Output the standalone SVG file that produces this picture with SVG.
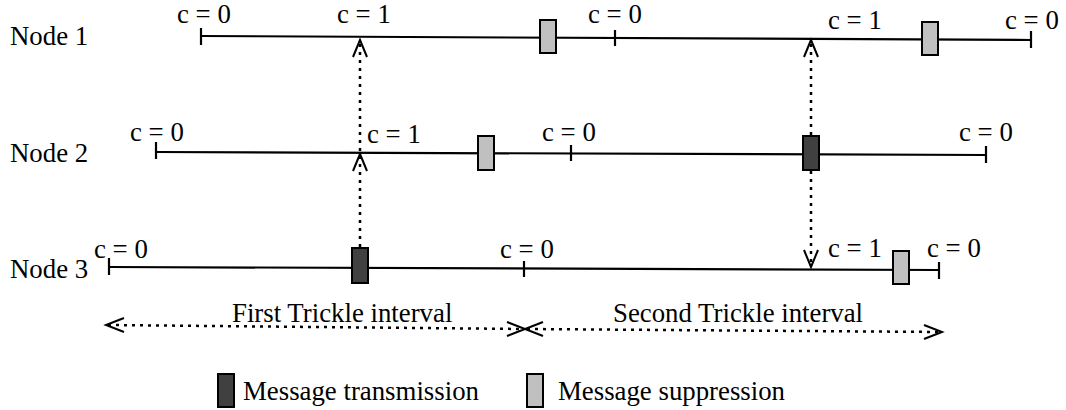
<svg xmlns="http://www.w3.org/2000/svg" width="1066" height="410" viewBox="0 0 1066 410">
<style>
text{font-family:"Liberation Serif","Times New Roman",serif;font-size:26.8px;fill:#000}
.ln{stroke:#000;stroke-width:2.2;fill:none}
.dot{stroke:#000;stroke-width:2.5;fill:none;stroke-dasharray:3 5}
.ah{stroke:#000;stroke-width:2;fill:none}
.tx{fill:#404040;stroke:#000;stroke-width:2}
.sp{fill:#c0c0c0;stroke:#000;stroke-width:2}
</style>
<rect width="1066" height="410" fill="#fff"/>
<g id="node1">
<text x="10" y="45">Node 1</text>
<line class="ln" x1="201" y1="36" x2="1031" y2="40"/>
<line class="ln" x1="201" y1="28" x2="201" y2="45"/>
<line class="ln" x1="615" y1="30" x2="615" y2="46"/>
<line class="ln" x1="1031" y1="31" x2="1031" y2="48"/>
<rect class="sp" x="540" y="20" width="16" height="33"/>
<rect class="sp" x="922" y="22" width="16" height="33"/>
<text x="177" y="23">c = 0</text>
<text x="337" y="23">c = 1</text>
<text x="588" y="23">c = 0</text>
<text x="828" y="29">c = 1</text>
<text x="1005" y="29">c = 0</text>
</g>
<g id="node2">
<text x="10" y="162">Node 2</text>
<line class="ln" x1="156" y1="152" x2="986" y2="155"/>
<line class="ln" x1="156" y1="142" x2="156" y2="159"/>
<line class="ln" x1="571" y1="145" x2="571" y2="161"/>
<line class="ln" x1="986" y1="146" x2="986" y2="163"/>
<rect class="sp" x="478" y="136" width="16" height="34"/>
<rect class="tx" x="803" y="136" width="16" height="34"/>
<text x="130" y="141">c = 0</text>
<text x="367" y="143">c = 1</text>
<text x="542" y="141">c = 0</text>
<text x="959" y="141">c = 0</text>
</g>
<g id="node3">
<text x="10" y="278">Node 3</text>
<line class="ln" x1="109" y1="267" x2="939" y2="270"/>
<line class="ln" x1="109" y1="258" x2="109" y2="275"/>
<line class="ln" x1="524" y1="261" x2="524" y2="277"/>
<line class="ln" x1="939" y1="262" x2="939" y2="279"/>
<rect class="tx" x="352" y="248" width="16" height="35"/>
<rect class="sp" x="893" y="251" width="16" height="33"/>
<text x="94" y="258">c = 0</text>
<text x="500" y="258">c = 0</text>
<text x="828" y="257">c = 1</text>
<text x="927" y="257">c = 0</text>
</g>
<g id="connectors">
<line class="dot" x1="360" y1="247" x2="360" y2="42"/>
<polyline class="ah" points="353,57 360,40 367,57"/>
<polyline class="ah" points="353,171 360,154 367,171"/>
<line class="dot" x1="811" y1="135" x2="811" y2="42"/>
<polyline class="ah" points="804,57 811,40 818,57"/>
<line class="dot" x1="811" y1="171" x2="811" y2="265"/>
<polyline class="ah" points="804,250 811,267 818,250"/>
<line class="dot" x1="108" y1="325" x2="523" y2="329"/>
<polyline class="ah" points="124,318 106,325 124,332"/>
<polyline class="ah" points="507,322 525,329 507,336"/>
<line class="dot" x1="527" y1="329" x2="940" y2="332"/>
<polyline class="ah" points="543,322 525,329 543,336"/>
<polyline class="ah" points="924,325 942,332 924,339"/>
</g>
<g id="intervals">
<text x="232" y="322">First Trickle interval</text>
<text x="613" y="322">Second Trickle interval</text>
</g>
<g id="legend">
<rect class="tx" x="218" y="374" width="16" height="33"/>
<text x="243" y="400">Message transmission</text>
<rect class="sp" x="527" y="374" width="16" height="33"/>
<text x="558" y="400">Message suppression</text>
</g>
</svg>
